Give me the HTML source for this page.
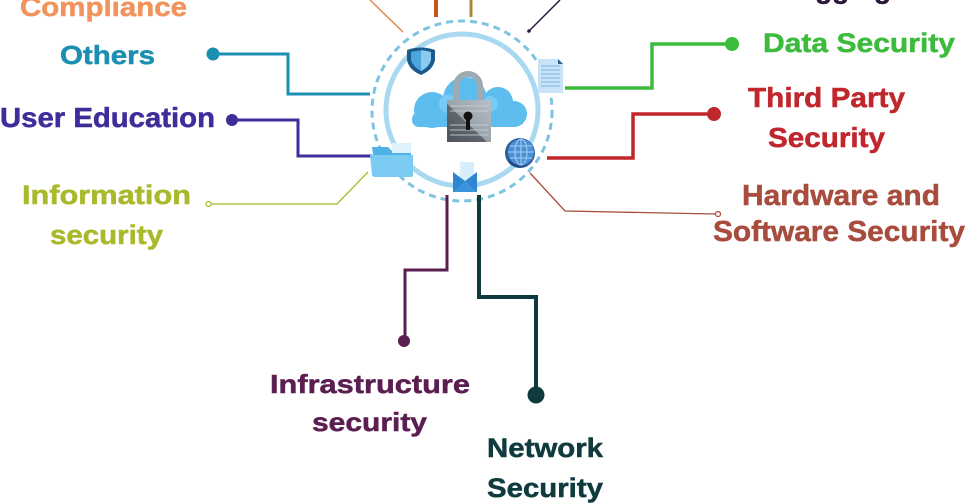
<!DOCTYPE html>
<html>
<head>
<meta charset="utf-8">
<style>
html,body{margin:0;padding:0;background:#fff;}
svg{display:block;}
text{font-family:"Liberation Sans",sans-serif;font-weight:bold;stroke-width:0.5;}
</style>
</head>
<body>
<svg width="967" height="504" viewBox="0 0 967 504" xmlns="http://www.w3.org/2000/svg">
<rect width="967" height="504" fill="#fff"/>

<!-- top partial lines -->
<line x1="370" y1="0" x2="403" y2="32" stroke="#e0894f" stroke-width="1.5"/>
<line x1="436" y1="0" x2="436" y2="17" stroke="#c4561c" stroke-width="4"/>
<line x1="471" y1="0" x2="471" y2="17" stroke="#a88a30" stroke-width="3"/>
<line x1="560" y1="0" x2="529" y2="31" stroke="#2a1838" stroke-width="1.5"/>
<circle cx="529" cy="31" r="1.8" fill="#2a1838"/>

<!-- circles -->
<circle cx="462" cy="111" r="90" fill="none" stroke="#7ec4e2" stroke-width="3" stroke-dasharray="7 5"/>
<circle cx="462" cy="110" r="76" fill="none" stroke="#a8d9f0" stroke-width="5"/>

<!-- Others -->
<polyline points="213,54 288,54 288,94 370,94" fill="none" stroke="#1b8fb2" stroke-width="3"/>
<circle cx="213" cy="54" r="6.5" fill="#1b8fb2"/>
<!-- User Education -->
<polyline points="232,120 298,120 298,156 372,156" fill="none" stroke="#3e2d9b" stroke-width="3"/>
<circle cx="232" cy="120" r="6" fill="#3e2d9b"/>
<!-- Information security -->
<polyline points="211,204 337,204 368,172" fill="none" stroke="#a9b92b" stroke-width="1.3"/>
<circle cx="208.5" cy="204" r="2.5" fill="#fff" stroke="#a9b92b" stroke-width="1.2"/>

<!-- Data Security -->
<polyline points="565,88 652,88 652,44 732,44" fill="none" stroke="#3dbb3d" stroke-width="3.5"/>
<circle cx="732" cy="44" r="7" fill="#3dbb3d"/>
<!-- Third Party -->
<polyline points="547,158 633,158 633,114 714,114" fill="none" stroke="#c0272d" stroke-width="3.5"/>
<circle cx="714" cy="114" r="7" fill="#c0272d"/>
<!-- Hardware -->
<polyline points="530,173 565,211 715,214" fill="none" stroke="#a84c3e" stroke-width="1.3"/>
<circle cx="718" cy="214" r="2.5" fill="#fff" stroke="#a84c3e" stroke-width="1.2"/>

<!-- Infrastructure -->
<polyline points="447,195 447,270 405,270 405,341" fill="none" stroke="#5b1e50" stroke-width="3"/>
<circle cx="404" cy="341" r="6" fill="#5b1e50"/>
<!-- Network -->
<polyline points="479,195 479,297 536,297 536,395" fill="none" stroke="#0f3b3f" stroke-width="4"/>
<circle cx="536" cy="395" r="8.5" fill="#0f3b3f"/>

<!-- cloud -->
<g fill="#5cbdee">
  <circle cx="432" cy="110" r="18"/>
  <circle cx="465" cy="99" r="22"/>
  <circle cx="498" cy="102" r="15"/>
  <circle cx="514" cy="114" r="13"/>
  <rect x="425" y="104" width="95" height="23" rx="6"/>
  <rect x="412" y="112" width="40" height="15" rx="7"/>
</g>
<g fill="#86d0f4" opacity="0.7">
  <circle cx="448" cy="104" r="9"/>
  <circle cx="490" cy="104" r="8"/>
</g>

<!-- lock -->
<path d="M456 101 V86 A12 12 0 0 1 480 86 V101" fill="none" stroke="#a0aab2" stroke-width="6"/>
<defs>
  <linearGradient id="lg" x1="0" y1="1" x2="1" y2="0">
    <stop offset="0" stop-color="#4e545c"/>
    <stop offset="0.45" stop-color="#5f666e"/>
    <stop offset="0.46" stop-color="#9aa2aa"/>
    <stop offset="1" stop-color="#b8bfc6"/>
  </linearGradient>
</defs>
<rect x="447" y="100" width="44" height="42" fill="url(#lg)"/>
<g stroke="#c9cfd4" stroke-width="1.2" opacity="0.7">
  <line x1="450" y1="106" x2="488" y2="106"/>
  <line x1="450" y1="111" x2="488" y2="111"/>
  <line x1="450" y1="125" x2="488" y2="125"/>
  <line x1="450" y1="130" x2="488" y2="130"/>
  <line x1="450" y1="135" x2="488" y2="135"/>
</g>
<circle cx="468" cy="116" r="4.5" fill="#111"/>
<rect x="466" y="116" width="4" height="14" rx="1" fill="#111"/>

<!-- shield -->
<path d="M407 50 Q421 45 435 50 L435 60 Q433 70 421 75 Q409 70 407 60 Z" fill="#1b5a8c"/>
<path d="M411 52 Q421 49 431 52 L431 60 Q429 67 421 71 Q413 67 411 60 Z" fill="#4ea4dc"/>
<path d="M421 50 L431 52 L431 60 Q429 67 421 71 Z" fill="#8ccaf0"/>

<!-- document -->
<path d="M538 59 H558 L563 64 V93 H538 Z" fill="#c8e2f7"/>
<path d="M558 59 L563 64 H558 Z" fill="#2d5f8c"/>
<g stroke="#7fb4e4" stroke-width="1">
  <line x1="541" y1="66" x2="560" y2="66"/>
  <line x1="541" y1="70" x2="560" y2="70"/>
  <line x1="541" y1="74" x2="560" y2="74"/>
  <line x1="541" y1="78" x2="560" y2="78"/>
  <line x1="541" y1="82" x2="560" y2="82"/>
  <line x1="541" y1="86" x2="560" y2="86"/>
</g>

<!-- folder -->
<path d="M372 147 H388 L392 151 H411 V176 H376 Z" fill="#4fb1e6"/>
<rect x="392" y="143" width="19" height="10" fill="#dff2fc"/>
<path d="M370 155 H413 V175 Q413 177 411 177 H375 Q372 177 372 175 Z" fill="#7ccbf2"/>

<!-- globe -->
<circle cx="520" cy="153" r="15" fill="#2c5f9e"/>
<circle cx="521" cy="152" r="13" fill="#4f8fd4"/>
<g stroke="#9fd0f4" stroke-width="1.1" fill="none">
  <ellipse cx="521" cy="152" rx="6" ry="13"/>
  <line x1="521" y1="139" x2="521" y2="165"/>
  <line x1="508" y1="152" x2="534" y2="152"/>
  <line x1="510" y1="146" x2="532" y2="146"/>
  <line x1="510" y1="158" x2="532" y2="158"/>
</g>
<path d="M508 158 Q515 168 528 166 Q518 170 510 164 Z" fill="#1f4a80"/>

<!-- envelope -->
<rect x="460" y="162" width="14" height="18" fill="#d8eefc"/>
<path d="M453 172 L465 181 L477 172 V192 H453 Z" fill="#2f86d0"/>
<path d="M453 192 L465 181 L477 192 Z" fill="#3b95dc"/>

<!-- labels -->
<text x="781" y="-2" font-size="28" fill="#2a1838" stroke="#2a1838" textLength="110" lengthAdjust="spacingAndGlyphs">Logging</text>
<text x="20" y="16" font-size="27" fill="#f2935c" stroke="#f2935c" textLength="167" lengthAdjust="spacingAndGlyphs">Compliance</text>
<text x="60" y="64" font-size="26" fill="#1b8fb2" stroke="#1b8fb2" textLength="95" lengthAdjust="spacingAndGlyphs">Others</text>
<text x="0" y="127" font-size="28" fill="#3e2d9b" stroke="#3e2d9b" textLength="215" lengthAdjust="spacingAndGlyphs">User Education</text>
<text x="22" y="204" font-size="27" fill="#a9b92b" stroke="#a9b92b" textLength="169" lengthAdjust="spacingAndGlyphs">Information</text>
<text x="50" y="244" font-size="27" fill="#a9b92b" stroke="#a9b92b" textLength="113" lengthAdjust="spacingAndGlyphs">security</text>
<text x="763" y="52" font-size="27" fill="#3dbb3d" stroke="#3dbb3d" textLength="192" lengthAdjust="spacingAndGlyphs">Data Security</text>
<text x="748" y="107" font-size="28" fill="#c0272d" stroke="#c0272d" textLength="157" lengthAdjust="spacingAndGlyphs">Third Party</text>
<text x="768" y="147" font-size="28" fill="#c0272d" stroke="#c0272d" textLength="117" lengthAdjust="spacingAndGlyphs">Security</text>
<text x="742" y="205" font-size="29" fill="#a84c3e" stroke="#a84c3e" textLength="198" lengthAdjust="spacingAndGlyphs">Hardware and</text>
<text x="713" y="241" font-size="29" fill="#a84c3e" stroke="#a84c3e" textLength="252" lengthAdjust="spacingAndGlyphs">Software Security</text>
<text x="270" y="393" font-size="26" fill="#5b1e50" stroke="#5b1e50" textLength="200" lengthAdjust="spacingAndGlyphs">Infrastructure</text>
<text x="312" y="431" font-size="26" fill="#5b1e50" stroke="#5b1e50" textLength="115" lengthAdjust="spacingAndGlyphs">security</text>
<text x="487" y="457" font-size="27" fill="#0f3b3f" stroke="#0f3b3f" textLength="116" lengthAdjust="spacingAndGlyphs">Network</text>
<text x="487" y="497" font-size="27" fill="#0f3b3f" stroke="#0f3b3f" textLength="116" lengthAdjust="spacingAndGlyphs">Security</text>
</svg>
</body>
</html>
